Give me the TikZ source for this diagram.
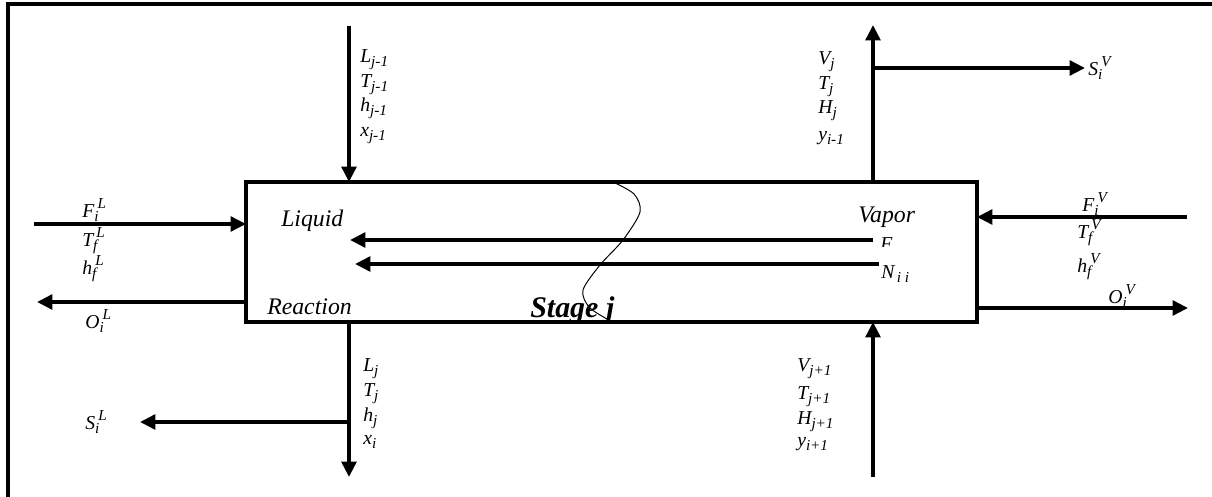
\documentclass[tikz,border=0pt]{standalone}
\usepackage{fontspec}
\setmainfont{Liberation Serif}
\usetikzlibrary{arrows.meta}
\newcommand{\lo}[1]{\raisebox{-0.4ex}{\fontsize{10.8}{11}\selectfont #1}}
\newcommand{\hi}[1]{\raisebox{1.0ex}{\fontsize{10.8}{11}\selectfont #1}}
\newcommand{\vsub}[2]{#1\lo{#2}}
\newcommand{\vsubsup}[3]{#1\lo{#2}\kern-0.05em\hi{#3}}
\begin{document}
\begin{tikzpicture}[x=0.025cm,y=-0.025cm,
    thickline/.style={line width=2.6pt},
    flow/.style={line width=2.6pt,-{Triangle[length=11pt,width=10.5pt]}},
    var/.style={anchor=base west,inner sep=0pt,font=\itshape\fontsize{14}{15}\selectfont},
    phase/.style={anchor=base west,inner sep=0pt,font=\itshape\fontsize{16.9}{19}\selectfont}]
    \useasboundingbox (0,0) rectangle (1212,497);
    % outer frame
    \draw[thickline] (8,497) -- (8,4) -- (1212,4);
    % stage box
    \coordinate (NW) at (246,182);
    \coordinate (SE) at (977,322);
    \draw[thickline] (NW) rectangle (SE);
    % liquid side
    \coordinate (Lin) at (349,26);
    \coordinate (Ltop) at (349,182);
    \coordinate (Lbot) at (349,322);
    \coordinate (Lout) at (349,477);
    \coordinate (Lside) at (349,422);
    \coordinate (SL) at (140,422);
    \coordinate (FLa) at (34,224);
    \coordinate (FLb) at (246,224);
    \coordinate (OLa) at (246,302);
    \coordinate (OLb) at (37,302);
    \draw[flow] (Lin) -- (Ltop);
    \draw[flow] (Lbot) -- (Lout);
    \draw[flow] (Lside) -- (SL);
    \draw[flow] (FLa) -- (FLb);
    \draw[flow] (OLa) -- (OLb);
    % vapor side
    \coordinate (Vtop) at (873,182);
    \coordinate (Vout) at (873,25);
    \coordinate (Vside) at (873,68);
    \coordinate (SV) at (1085,68);
    \coordinate (Vin) at (873,477);
    \coordinate (Vbot) at (873,322);
    \coordinate (FVa) at (1187,217);
    \coordinate (FVb) at (977,217);
    \coordinate (OVa) at (977,308);
    \coordinate (OVb) at (1188,308);
    \draw[flow] (Vtop) -- (Vout);
    \draw[flow] (Vside) -- (SV);
    \draw[flow] (Vin) -- (Vbot);
    \draw[flow] (FVa) -- (FVb);
    \draw[flow] (OVa) -- (OVb);
    % inner fluxes
    \coordinate (Ea) at (873,240);
    \coordinate (Eb) at (350,240);
    \coordinate (Na) at (879,264);
    \coordinate (Nb) at (355,264);
    \draw[flow] (Ea) -- (Eb);
    \draw[flow] (Na) -- (Nb);
    % interface
    \draw[line width=0.7pt] plot[smooth] coordinates {(613,182) (634,194) (640,212) (623,240) (600,265) (583,290) (589,307) (607,319)};
    % labels
    \node[var] (l1) at (360,63) {\vsub{L}{j-1}};
    \node[var] (l2) at (360,88) {\vsub{T}{j-1}};
    \node[var] (l3) at (360,112) {\vsub{h}{j-1}};
    \node[var] (l4) at (360,137) {\vsub{x}{j-1}};
    \node[var] (l5) at (363,372) {\vsub{L}{j}};
    \node[var] (l6) at (363,397) {\vsub{T}{j}};
    \node[var] (l7) at (363,422) {\vsub{h}{j}};
    \node[var] (l8) at (363,445) {\vsub{x}{i}};
    \node[var] (fl) at (82,218) {\vsubsup{F}{i}{L}};
    \node[var] (tl) at (82,247) {\vsubsup{T}{f}{L}};
    \node[var] (hl) at (82,275) {\vsubsup{h}{f}{L}};
    \node[var] (ol) at (85,329) {\vsubsup{O}{i}{L}};
    \node[var] (sl) at (85,430) {\vsubsup{S}{i}{L}};
    \node[var] (v1) at (818,65) {\vsub{V}{j}};
    \node[var] (v2) at (818,90) {\vsub{T}{j}};
    \node[var] (v3) at (818,114) {\vsub{H}{j}};
    \node[var] (v4) at (818,141) {\vsub{y}{i-1}};
    \node[var] (v5) at (797,372) {\vsub{V}{j+1}};
    \node[var] (v6) at (797,400) {\vsub{T}{j+1}};
    \node[var] (v7) at (797,425) {\vsub{H}{j+1}};
    \node[var] (v8) at (797,447) {\vsub{y}{i+1}};
    \node[var] (sv) at (1088,76) {\vsubsup{S}{i}{V}};
    \node[var] (fv) at (1082,212) {\vsubsup{F}{i}{V}};
    \node[var] (tv) at (1077,239) {\vsubsup{T}{f}{V}};
    \node[var] (hv) at (1077,273) {\vsubsup{h}{f}{V}};
    \node[var] (ov) at (1108,304) {\vsubsup{O}{i}{V}};
    \begin{scope}
        \clip (876,232) rectangle (905,247);
        \node[var] (ef) at (880,251) {F};
    \end{scope}
    \node[var] (nf) at (881,279) {N\lo{\,i i}};
    \node[phase] (liq) at (281,227) {Liquid};
    \node[phase] (rea) at (267,315) {Reaction};
    \node[phase] (vap) at (858,223) {Vapor};
    \node[anchor=base west,inner sep=0pt,font=\bfseries\itshape\fontsize{21.3}{24}\selectfont] (stg) at (530,318) {Stage j};
\end{tikzpicture}
\end{document}
